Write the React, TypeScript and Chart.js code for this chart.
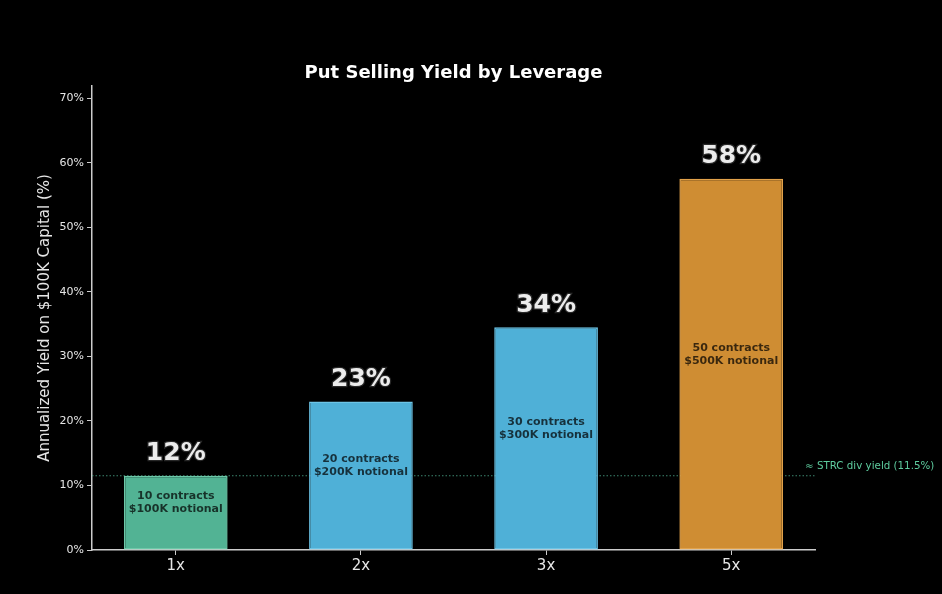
import { Chart, registerables } from 'chart.js';
import { useEffect, useRef } from 'react';

Chart.register(...registerables);

const categories = ['1x', '2x', '3x', '5x'];
const yields = [11.5, 23, 34.5, 57.5];
const valueLabels = ['12%', '23%', '34%', '58%'];
const contractLabels = ['10 contracts', '20 contracts', '30 contracts', '50 contracts'];
const notionalLabels = ['$100K notional', '$200K notional', '$300K notional', '$500K notional'];
const barColors = ['#52b394', '#4fb0d7', '#4fb0d7', '#cf8d33'];
const barEdges = ['#6cc8a8', '#6cc4e6', '#6cc4e6', '#e2a24a'];
const yTicks = [0, 10, 20, 30, 40, 50, 60, 70];
const strcYield = 11.5;
const strcLabel = '≈ STRC div yield (11.5%)';
const title = 'Put Selling Yield by Leverage';

const FONT = "'DejaVu Sans', sans-serif";

const overlay = {
    id: 'overlay',
    beforeDatasetsDraw(chart: any) {
        const { ctx, chartArea, scales } = chart;
        const yy = scales.y.getPixelForValue(strcYield);
        ctx.save();
        ctx.strokeStyle = 'rgba(82,179,148,0.75)';
        ctx.lineWidth = 1;
        ctx.setLineDash([1.5, 2]);
        ctx.beginPath();
        ctx.moveTo(chartArea.left, yy);
        ctx.lineTo(chartArea.right, yy);
        ctx.stroke();
        ctx.restore();
    },
    afterDatasetsDraw(chart: any) {
        const { ctx, chartArea, scales } = chart;
        const meta = chart.getDatasetMeta(0);
        ctx.save();
        ctx.textAlign = 'center';
        ctx.textBaseline = 'middle';
        meta.data.forEach((bar: any, i: number) => {
            // value on top
            ctx.font = `bold 25px ${FONT}`;
            ctx.lineWidth = 2.5;
            ctx.strokeStyle = 'rgba(50,50,50,0.8)';
            ctx.strokeText(valueLabels[i], bar.x, bar.y - 22);
            ctx.fillStyle = '#ececec';
            ctx.fillText(valueLabels[i], bar.x, bar.y - 22);
            // text inside bar
            const mid = scales.y.getPixelForValue(yields[i] / 2) - 10;
            ctx.font = `bold 11px ${FONT}`;
            ctx.fillStyle = 'rgba(0,0,0,0.72)';
            ctx.fillText(contractLabels[i], bar.x, mid - 6.5);
            ctx.fillText(notionalLabels[i], bar.x, mid + 6.5);
        });
        // reference label
        const yy = scales.y.getPixelForValue(strcYield);
        ctx.textAlign = 'left';
        ctx.font = `10.3px ${FONT}`;
        ctx.fillStyle = '#5ecc9f';
        ctx.fillText(strcLabel, chartArea.right - 10, yy - 9);
        // title
        ctx.textAlign = 'center';
        ctx.font = `bold 18px ${FONT}`;
        ctx.fillStyle = '#ffffff';
        ctx.fillText(title, (chartArea.left + chartArea.right) / 2, 73);
        ctx.restore();
    },
};

export default function App() {
    const canvasRef = useRef<HTMLCanvasElement>(null);

    useEffect(() => {
        document.body.style.margin = '0';
        document.body.style.background = '#000';
        const canvas = canvasRef.current;
        if (!canvas) return;
        const ctx = canvas.getContext('2d');
        if (!ctx) return;

        const chart = new Chart(ctx, {
            type: 'bar',
            data: {
                datasets: [
                    {
                        data: yields.map((v, i) => ({ x: i, y: v })),
                        backgroundColor: barColors,
                        borderColor: barEdges,
                        borderWidth: 1.5,
                        borderSkipped: false,
                        barPercentage: 0.56,
                        categoryPercentage: 1,
                    },
                ],
            },
            options: {
                animation: false,
                responsive: true,
                maintainAspectRatio: false,
                layout: { padding: { left: 0, right: 127, top: 86, bottom: 0 } },
                plugins: {
                    legend: { display: false },
                    tooltip: { enabled: false },
                    title: { display: false },
                },
                scales: {
                    x: {
                        type: 'linear',
                        min: -0.4525,
                        max: 3.4525,
                        offset: false,
                        afterBuildTicks: (axis: any) => {
                            axis.ticks = categories.map((_, i) => ({ value: i }));
                        },
                        afterFit: (axis: any) => {
                            axis.height = 44;
                        },
                        ticks: {
                            color: '#e6e6e6',
                            font: { family: FONT, size: 15 },
                            padding: 2,
                            callback: (v: any) => categories[v] ?? '',
                        },
                        grid: {
                            display: true,
                            drawOnChartArea: false,
                            drawTicks: true,
                            tickLength: 5,
                            color: '#cccccc',
                            offset: false,
                        },
                        border: { display: true, color: '#cccccc', width: 1.5 },
                    },
                    y: {
                        min: 0,
                        max: yields[yields.length - 1] * 1.25,
                        afterBuildTicks: (axis: any) => {
                            axis.ticks = yTicks.map((v) => ({ value: v }));
                        },
                        afterFit: (axis: any) => {
                            axis.width = 92;
                        },
                        ticks: {
                            color: '#e6e6e6',
                            font: { family: FONT, size: 11 },
                            padding: 3,
                            callback: (v: any) => `${v}%`,
                        },
                        grid: {
                            display: true,
                            drawOnChartArea: false,
                            drawTicks: true,
                            tickLength: 5,
                            color: '#cccccc',
                        },
                        border: { display: true, color: '#cccccc', width: 1.5 },
                        title: {
                            display: true,
                            text: 'Annualized Yield on $100K Capital (%)',
                            color: '#e6e6e6',
                            font: { family: FONT, size: 15 },
                            padding: { top: 36, bottom: 0 },
                        },
                    },
                },
            },
            plugins: [overlay],
        });

        return () => {
            chart.destroy();
        };
    }, []);

    return (
        <div style={{ width: 942, height: 594, background: '#000', position: 'relative' }}>
            <canvas ref={canvasRef} />
        </div>
    );
}
